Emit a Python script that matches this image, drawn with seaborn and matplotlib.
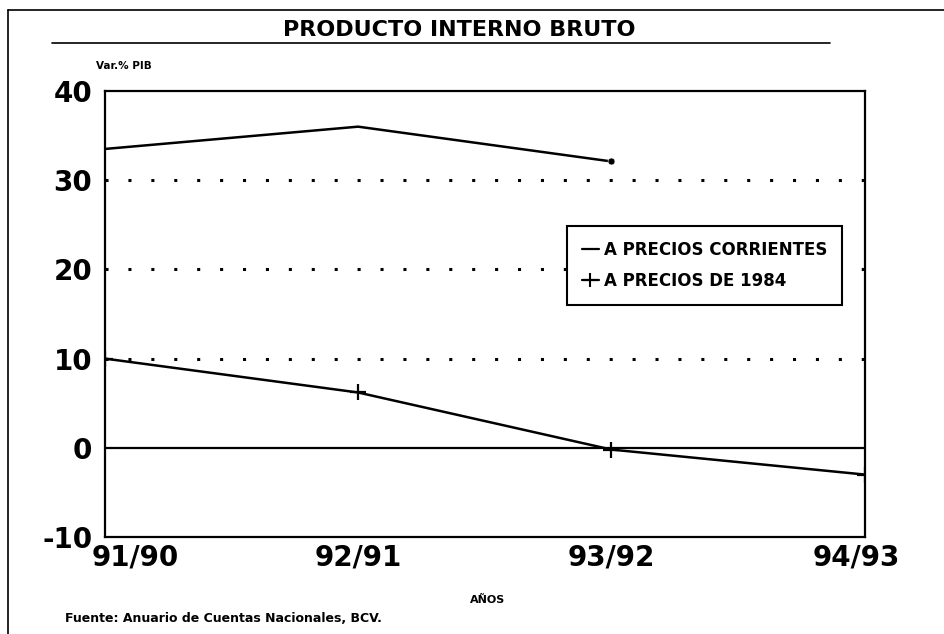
import pandas as pd
import matplotlib.pyplot as plt
import seaborn as sns
from matplotlib.lines import Line2D
import matplotlib.transforms as mtrans

# Datos
periodos = ["91/90", "92/91", "93/92", "94/93"]
corrientes = [33.5, 36.0, 32.1]
precios_1984 = [10.0, 6.2, -0.2, -3.0]

df_corr = pd.DataFrame({"x": range(len(corrientes)), "v": corrientes})
df_84 = pd.DataFrame({"x": range(len(precios_1984)), "v": precios_1984})

sns.set_style("white")
plt.rcParams['font.family'] = ['DejaVu Sans']
plt.rcParams['text.color'] = 'black'
plt.rcParams['xtick.color'] = 'black'
plt.rcParams['ytick.color'] = 'black'
plt.rcParams['axes.unicode_minus'] = False

fig = plt.figure(figsize=(9.44, 6.34), dpi=100)
ax = fig.add_axes([0.111, 0.153, 0.805, 0.7035])

# Lineas
sns.lineplot(data=df_corr, x="x", y="v", ax=ax, color="black", lw=1.8)
sns.scatterplot(data=df_corr.tail(1), x="x", y="v", ax=ax, color="black", s=25, zorder=5)
sns.lineplot(data=df_84, x="x", y="v", ax=ax, color="black", lw=1.8,
             marker="+", markersize=12, markeredgewidth=1.6,
             markeredgecolor="black", markerfacecolor="black")

# Rejilla
for y in [10, 20, 30]:
    ax.axhline(y, color="black", lw=2.2, linestyle=(0, (1, 6.5)), zorder=1)
ax.axhline(0, color="black", lw=1.6, zorder=1)

ax.set_xlim(0, 3)
ax.set_ylim(-10, 40)
ax.set_yticks([-10, 0, 10, 20, 30, 40])
ax.set_xticks(range(len(periodos)))
ax.set_xticklabels(periodos)
ax.tick_params(axis="both", length=0, labelsize=20)
ax.tick_params(axis="y", pad=9)
ax.tick_params(axis="x", pad=5)
for lab in ax.get_xticklabels() + ax.get_yticklabels():
    lab.set_fontweight("bold")

# desplazar primera y ultima etiqueta
xl = ax.get_xticklabels()
xl[0].set_transform(xl[0].get_transform() + mtrans.ScaledTranslation(30 / 100, 0, fig.dpi_scale_trans))
xl[-1].set_transform(xl[-1].get_transform() + mtrans.ScaledTranslation(-8 / 100, 0, fig.dpi_scale_trans))

ax.set_xlabel("")
ax.set_ylabel("")
for s in ax.spines.values():
    s.set_visible(True)
    s.set_color("black")
    s.set_linewidth(1.6)

# Leyenda
handles = [Line2D([], [], color="black", lw=1.6),
           Line2D([], [], color="black", lw=1.6, marker="+", markersize=10, markeredgewidth=1.5)]
leg = fig.legend(handles, ["A PRECIOS CORRIENTES", "A PRECIOS DE 1984"],
                 loc="upper left", bbox_to_anchor=(567 / 944, 1 - 226 / 634),
                 borderaxespad=0, frameon=True, framealpha=1, fancybox=False,
                 handlelength=1.0, handletextpad=0.3,
                 borderpad=0.9, labelspacing=0.75,
                 prop={"weight": "bold", "size": 12})
leg.get_frame().set_edgecolor("black")
leg.get_frame().set_linewidth(1.5)

# Textos
fig.text(0.487, 1 - 30 / 634, "PRODUCTO INTERNO BRUTO", ha="center", va="center",
         fontsize=16, fontweight="bold")
fig.add_artist(Line2D([52 / 944, 830 / 944], [1 - 43 / 634] * 2, color="black", lw=1.2))
fig.add_artist(Line2D([8 / 944, 1.0], [1 - 10 / 634] * 2, color="black", lw=1.2))
fig.add_artist(Line2D([8 / 944, 8 / 944], [1 - 10 / 634, 0], color="black", lw=1.2))
fig.text(96 / 944, 1 - 66 / 634, "Var.% PIB", ha="left", va="center", fontsize=7.5, fontweight="bold")
fig.text(488 / 944, 1 - 600 / 634, "AÑOS", ha="center", va="center", fontsize=8, fontweight="bold")
fig.text(65 / 944, 1 - 618 / 634, "Fuente: Anuario de Cuentas Nacionales, BCV.",
         ha="left", va="center", fontsize=9, fontweight="bold")

fig.savefig("out.png", dpi=100)
